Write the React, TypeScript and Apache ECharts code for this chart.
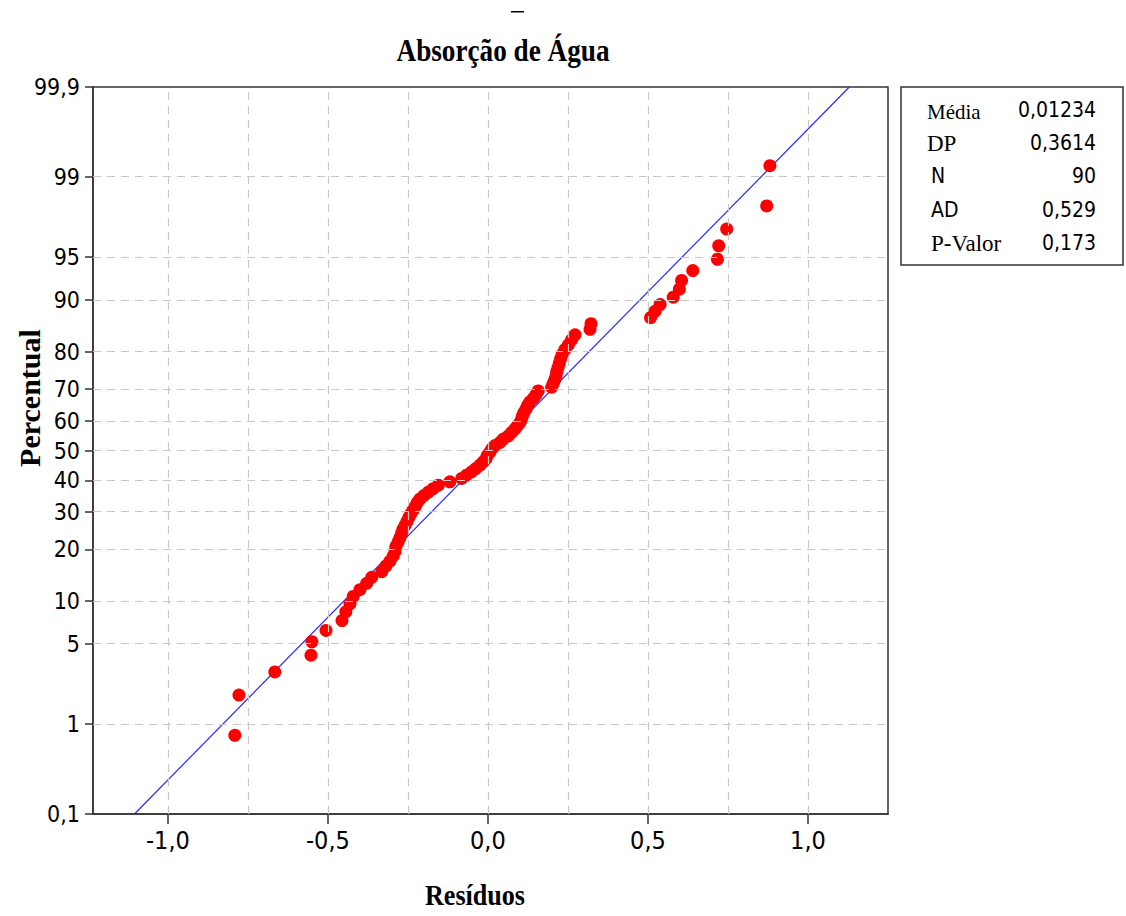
import React, { useEffect, useRef } from "react";
import * as echarts from "echarts";

const chartTitle = "Absorção de Água";
const xName = "Resíduos";
const yName = "Percentual";
const xTicks = [-1.0, -0.5, 0.0, 0.5, 1.0];
const xGrid = [-1.0, -0.75, -0.5, -0.25, 0.0, 0.25, 0.5, 0.75, 1.0];
const yTickPercents = [0.1, 1, 5, 10, 20, 30, 40, 50, 60, 70, 80, 90, 95, 99, 99.9];
const yTickLabels = ["0,1", "1", "5", "10", "20", "30", "40", "50", "60", "70", "80", "90", "95", "99", "99,9"];

// Residuals, sorted ascending
const residuals = [
  -0.791, -0.778, -0.666, -0.553, -0.550, -0.506, -0.456, -0.444, -0.431, -0.421,
  -0.400, -0.379, -0.363, -0.332, -0.319, -0.306, -0.296, -0.290, -0.288, -0.281,
  -0.275, -0.270, -0.266, -0.259, -0.253, -0.247, -0.241, -0.234, -0.227, -0.221,
  -0.213, -0.200, -0.186, -0.171, -0.155, -0.119, -0.082, -0.067, -0.051, -0.038,
  -0.025, -0.015, -0.006, -0.002, 0.006, 0.012, 0.022, 0.038, 0.048, 0.064,
  0.074, 0.084, 0.092, 0.100, 0.105, 0.108, 0.113, 0.119, 0.124, 0.131,
  0.142, 0.150, 0.157, 0.199, 0.204, 0.209, 0.213, 0.215, 0.219, 0.223,
  0.227, 0.232, 0.240, 0.251, 0.261, 0.272, 0.319, 0.322, 0.508, 0.522,
  0.538, 0.579, 0.598, 0.605, 0.640, 0.717, 0.721, 0.746, 0.871, 0.881,
];

const fitMean = 0.01234;
const fitSd = 0.3614;
const statLabels = ["Média", "DP", " N", " AD", " P-Valor"];
const statValues = ["0,01234", "0,3614", "90", "0,529", "0,173"];

const SERIF = "'Liberation Serif', 'Times New Roman', serif";
const SANS = "'DejaVu Sans Condensed', 'DejaVu Sans', sans-serif";

function invNorm(p: number): number {
  const a = [-3.969683028665376e1, 2.209460984245205e2, -2.759285104469687e2, 1.38357751867269e2, -3.066479806614716e1, 2.506628277459239];
  const b = [-5.447609879822406e1, 1.615858368580409e2, -1.556989798598866e2, 6.680131188771972e1, -1.328068155288572e1];
  const c = [-7.784894002430293e-3, -3.223964580411365e-1, -2.400758277161838, -2.549732539343734, 4.374664141464968, 2.938163982698783];
  const d = [7.784695709041462e-3, 3.224671290700398e-1, 2.445134137142996, 3.754408661907416];
  const pl = 0.02425;
  let q: number, r: number;
  if (p < pl) {
    q = Math.sqrt(-2 * Math.log(p));
    return (((((c[0] * q + c[1]) * q + c[2]) * q + c[3]) * q + c[4]) * q + c[5]) / ((((d[0] * q + d[1]) * q + d[2]) * q + d[3]) * q + 1);
  }
  if (p <= 1 - pl) {
    q = p - 0.5;
    r = q * q;
    return ((((((a[0] * r + a[1]) * r + a[2]) * r + a[3]) * r + a[4]) * r + a[5]) * q) / (((((b[0] * r + b[1]) * r + b[2]) * r + b[3]) * r + b[4]) * r + 1);
  }
  q = Math.sqrt(-2 * Math.log(1 - p));
  return -(((((c[0] * q + c[1]) * q + c[2]) * q + c[3]) * q + c[4]) * q + c[5]) / ((((d[0] * q + d[1]) * q + d[2]) * q + d[3]) * q + 1);
}

export default function App() {
  const ref = useRef<HTMLDivElement>(null);
  useEffect(() => {
    if (!ref.current) return;
    const chart = echarts.init(ref.current, undefined, { renderer: "svg" });
    const n = residuals.length;
    const yTickZ = yTickPercents.map((p) => invNorm(p / 100));
    const zLo = yTickZ[0];
    const zHi = yTickZ[yTickZ.length - 1];
    const points = residuals.map((r, i) => [r, invNorm((i + 1 - 0.3) / (n + 0.4))]);
    const fitLine = [
      [fitMean + fitSd * zLo, zLo],
      [fitMean + fitSd * zHi, zHi],
    ];
    const yLabelFor = (v: number) => {
      let best = 0;
      yTickZ.forEach((z, i) => {
        if (Math.abs(z - v) < Math.abs(yTickZ[best] - v)) best = i;
      });
      return yTickLabels[best];
    };

    const legendGraphics: any[] = [
      {
        type: "rect",
        shape: { x: 901, y: 87, width: 222, height: 178 },
        style: { fill: "#fff", stroke: "#333", lineWidth: 1.5 },
      },
    ];
    const rowY = [110, 143, 176, 210, 243];
    statLabels.forEach((lab, i) => {
      const serif = i === 0 || i === 1 || i === 4;
      legendGraphics.push({
        type: "text",
        x: lab.startsWith(" ") ? 931 : 927,
        y: rowY[i] + (i === 0 ? 2 : 0),
        style: {
          text: lab.trim(),
          font: serif ? `${i === 0 ? 21 : 23}px ${SERIF}` : `21px ${SANS}`,
          fill: "#000",
          textAlign: "left",
          textVerticalAlign: "middle",
        },
      });
      legendGraphics.push({
        type: "text",
        x: 1096,
        y: rowY[i],
        style: {
          text: statValues[i],
          font: `21px ${SANS}`,
          fill: "#000",
          textAlign: "right",
          textVerticalAlign: "middle",
        },
      });
    });

    chart.setOption({
      animation: false,
      backgroundColor: "#fff",
      grid: {
        left: 93,
        right: 1126 - 888,
        top: 87,
        bottom: 916 - 814,
        show: true,
        borderColor: "#333",
        borderWidth: 1.5,
      },
      xAxis: {
        type: "value",
        min: -1.234,
        max: 1.25,
        splitLine: { show: false },
        axisLine: { show: true, onZero: false, lineStyle: { color: "#333", width: 1.5 } },
        axisTick: { show: true, length: 10, customValues: xTicks, lineStyle: { color: "#333", width: 1.5 } },
        axisLabel: {
          customValues: xTicks,
          formatter: (v: number) => v.toFixed(1).replace(".", ","),
          fontFamily: SANS,
          fontSize: 25,
          color: "#000",
          margin: 14,
        },
      },
      yAxis: {
        type: "value",
        min: zLo,
        max: zHi,
        splitLine: { show: false },
        axisLine: { show: true, onZero: false, lineStyle: { color: "#333", width: 1.5 } },
        axisTick: { show: true, length: 8, customValues: yTickZ, lineStyle: { color: "#333", width: 1.5 } },
        axisLabel: {
          customValues: yTickZ,
          showMinLabel: true,
          showMaxLabel: true,
          hideOverlap: false,
          formatter: (v: number) => yLabelFor(v),
          fontFamily: SANS,
          fontSize: 23,
          color: "#000",
          margin: 13,
        },
      },
      series: [
        {
          type: "line",
          data: [],
          z: 1,
          silent: true,
          markLine: {
            silent: true,
            symbol: ["none", "none"],
            label: { show: false },
            lineStyle: { type: [8, 6], color: "#c8c8c8", width: 1.2 },
            emphasis: { disabled: true },
            data: [
              ...xGrid.map((v) => ({ xAxis: v })),
              ...yTickZ.slice(1, -1).map((v) => ({ yAxis: v })),
            ],
          },
        },
        {
          type: "line",
          data: fitLine,
          z: 2,
          symbol: "none",
          silent: true,
          lineStyle: { color: "#2a2aff", width: 1.2 },
        },
        {
          type: "scatter",
          data: points,
          z: 3,
          symbol: "circle",
          symbolSize: 13,
          itemStyle: { color: "#ff0000", opacity: 1 },
        },
      ],
      graphic: [
        {
          type: "text",
          x: 503,
          y: 50,
          scaleX: 0.85,
          style: {
            text: chartTitle,
            font: `bold 32px ${SERIF}`,
            fill: "#000",
            textAlign: "center",
            textVerticalAlign: "middle",
          },
        },
        {
          type: "rect",
          shape: { x: 511, y: 11, width: 13, height: 1.5 },
          style: { fill: "#000" },
        },
        {
          type: "text",
          x: 475,
          y: 895,
          scaleX: 0.87,
          style: {
            text: xName,
            font: `bold 30px ${SERIF}`,
            fill: "#000",
            textAlign: "center",
            textVerticalAlign: "middle",
          },
        },
        {
          type: "text",
          x: 29,
          y: 398,
          rotation: Math.PI / 2,
          style: {
            text: yName,
            font: `bold 30px ${SERIF}`,
            fill: "#000",
            textAlign: "center",
            textVerticalAlign: "middle",
          },
        },
        ...legendGraphics,
      ],
    });
    return () => chart.dispose();
  }, []);
  return <div ref={ref} style={{ position: "absolute", left: 0, top: 0, width: 1126, height: 916 }} />;
}
